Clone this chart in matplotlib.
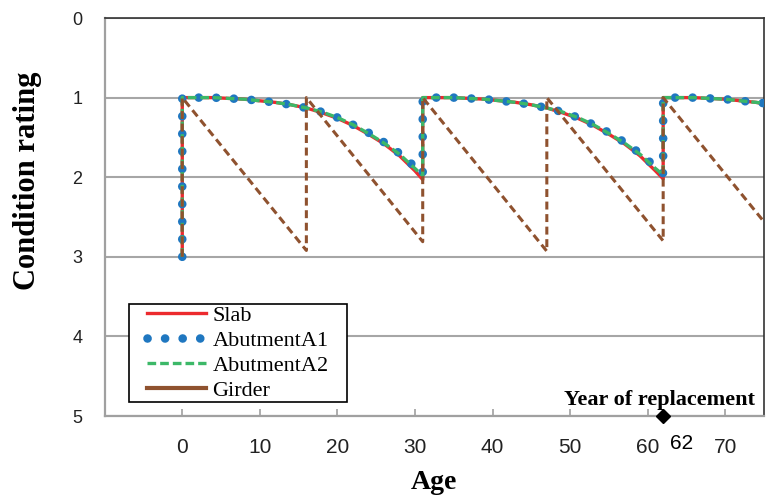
import matplotlib.pyplot as plt
from matplotlib.lines import Line2D
from matplotlib.legend_handler import HandlerLine2D

# condition rating vs age
slab_age = [0, 0, 2, 4, 6, 8, 10, 12, 14, 16, 18, 20, 22, 24, 26, 28, 30, 31,
            31, 33, 35, 37, 39, 41, 43, 45, 47, 49, 51, 53, 55, 57, 59, 61, 62,
            62, 64, 66, 68, 70, 72, 74, 75]
slab_cr = [3.0, 1.0, 1.0, 1.0, 1.01, 1.02, 1.04, 1.06, 1.09, 1.13, 1.19, 1.26, 1.35, 1.46, 1.58, 1.73, 1.92, 2.03,
           1.0, 1.0, 1.0, 1.01, 1.02, 1.04, 1.06, 1.09, 1.13, 1.19, 1.26, 1.35, 1.46, 1.58, 1.73, 1.92, 2.02,
           1.0, 1.0, 1.0, 1.01, 1.02, 1.04, 1.06, 1.08]

a1_age = slab_age
a1_cr = [3.0, 1.0, 1.0, 1.0, 1.01, 1.02, 1.04, 1.06, 1.09, 1.13, 1.18, 1.25, 1.34, 1.44, 1.56, 1.70, 1.87, 1.96,
         1.0, 1.0, 1.0, 1.01, 1.02, 1.04, 1.06, 1.09, 1.13, 1.18, 1.25, 1.34, 1.44, 1.56, 1.70, 1.87, 1.95,
         1.0, 1.0, 1.0, 1.01, 1.02, 1.04, 1.06, 1.07]

a2_age = slab_age
a2_cr = [3.0, 1.0, 1.0, 1.0, 1.01, 1.02, 1.04, 1.06, 1.09, 1.13, 1.18, 1.25, 1.34, 1.45, 1.57, 1.71, 1.89, 1.98,
         1.0, 1.0, 1.0, 1.01, 1.02, 1.04, 1.06, 1.09, 1.13, 1.18, 1.25, 1.34, 1.45, 1.57, 1.71, 1.89, 1.97,
         1.0, 1.0, 1.0, 1.01, 1.02, 1.04, 1.06, 1.07]

girder_age = [0, 0, 16, 16, 31, 31, 47, 47, 62, 62, 75]
girder_cr = [3.0, 1.0, 2.92, 1.0, 2.81, 1.0, 2.93, 1.0, 2.80, 1.0, 2.56]

replace_year = 62

red = '#ec2a2e'
blue = '#1f77c0'
green = '#3cb868'
brown = '#8f522f'

fig = plt.figure(figsize=(7.67, 4.99), dpi=100)
ax = fig.add_axes([0.1365, 0.1663, 0.8596, 0.7976])

l1, = ax.plot(slab_age, slab_cr, color=red, lw=2.4, zorder=3)
l2, = ax.plot(a1_age, a1_cr, color=blue, lw=6.2, linestyle=(0, (0.01, 2.03)),
              dash_capstyle='round', zorder=4)
l3, = ax.plot(a2_age, a2_cr, color=green, lw=2.4, dashes=(2.6, 1.2), zorder=5)
ax.plot(girder_age, girder_cr, color=brown, lw=2.2, dashes=(2.6, 1.5), zorder=6)

# replacement marker
ax.plot([replace_year], [5], marker='D', color='k', ms=7, clip_on=False, zorder=10)
ax.text(replace_year - 0.5, 4.80, 'Year of replacement', ha='center', va='center',
        fontsize=16, fontweight='bold', family='Liberation Serif')
ax.text(replace_year + 2.4, 5.34, str(replace_year), ha='center', va='center',
        fontsize=15, family='Liberation Sans', clip_on=False)

ax.set_xlim(-10, 75)
ax.set_ylim(5, 0)
ax.set_xticks(range(0, 71, 10))
ax.set_yticks(range(0, 6))
ax.grid(axis='y', color='#a6a6a6', lw=1.5)
ax.set_axisbelow(True)

ax.tick_params(axis='x', direction='in', length=5, width=1.2, color='#a0a0a0',
               pad=16, labelsize=15)
ax.tick_params(axis='y', length=0, pad=16, labelsize=13)
for t in ax.get_xticklabels() + ax.get_yticklabels():
    t.set_fontfamily('Liberation Sans')
    t.set_color('#222222')

for s in ['left', 'bottom']:
    ax.spines[s].set_color('#a0a0a0')
    ax.spines[s].set_linewidth(1.6)
for s in ['top', 'right']:
    ax.spines[s].set_color('#333333')
    ax.spines[s].set_linewidth(1.2)

ax.set_xlabel('Age', fontsize=20, fontweight='bold', family='Liberation Serif')
ax.xaxis.label.set_va('center')
ax.xaxis.set_label_coords(0.5, -0.166)
ax.set_ylabel('Condition rating', fontsize=22, fontweight='bold', family='Liberation Serif')
ax.yaxis.label.set_va('center')
ax.yaxis.set_label_coords(-0.117, 0.59)

girder_handle = Line2D([], [], color=brown, lw=3)
leg = ax.legend([l1, l2, l3, girder_handle], ['Slab', 'AbutmentA1', 'AbutmentA2', 'Girder'],
                loc='lower left', bbox_to_anchor=(0.0373, 0.036, 0.3307, 0.2),
                mode='expand', borderaxespad=0,
                frameon=True, fancybox=False, edgecolor='black', framealpha=1,
                prop={'family': 'Liberation Serif', 'size': 16},
                handlelength=3.4, handletextpad=0.3, labelspacing=0.2, borderpad=0.05,
                handler_map={Line2D: HandlerLine2D(xpad=0.75)})
leg.get_frame().set_linewidth(1.2)
leg.set_zorder(12)

fig.savefig('out.png', dpi=100)
